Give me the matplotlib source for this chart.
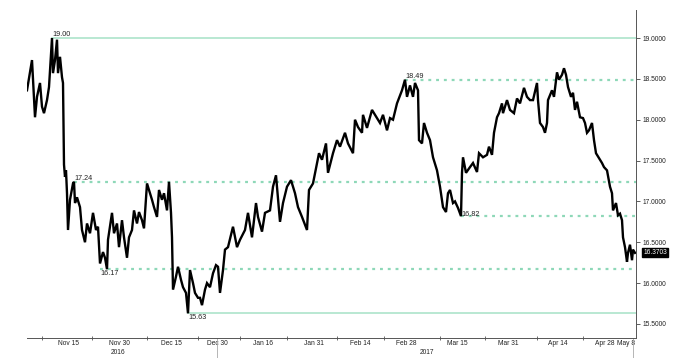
import matplotlib
matplotlib.use("Agg")
import matplotlib.pyplot as plt
import matplotlib.transforms as mtransforms

# ---- data (bar index, price) ----
bars = [0, 5, 8, 10, 13, 15, 17, 20, 22, 25, 26, 28, 30, 31, 33, 35, 36, 37, 38, 39,
        40, 41, 43, 46, 47, 48, 50, 53, 55, 58, 60, 63, 66, 69, 71, 73, 76, 78, 80, 81,
        85, 87, 90, 92, 95, 97, 100, 102, 105, 107, 110, 112, 115, 117, 120, 122, 125, 127, 130, 132,
        135, 137, 140, 142, 144, 145, 146, 149, 151, 154, 156, 159, 161, 163, 166, 168, 171, 173, 175, 178,
        180, 183, 186, 189, 191, 193, 196, 198, 201, 206, 210, 213, 218, 221, 225, 229, 231, 235, 238, 243,
        246, 249, 253, 256, 260, 264, 268, 271, 275, 280, 282, 286, 290, 292, 295, 299, 301, 306, 310, 313,
        318, 321, 326, 328, 331, 335, 336, 340, 345, 350, 353, 356, 360, 363, 366, 370, 375, 378, 380, 383,
        386, 388, 391, 392, 395, 397, 400, 403, 406, 410, 413, 416, 419, 421, 423, 426, 428, 431, 434, 435,
        436, 439, 443, 446, 450, 452, 456, 460, 462, 465, 467, 470, 472, 475, 476, 480, 483, 487, 490, 493,
        497, 500, 503, 506, 510, 511, 513, 516, 518, 520, 521, 525, 527, 530, 532, 535, 537, 539, 541, 544,
        546, 548, 550, 553, 556, 558, 560, 562, 565, 567, 569, 572, 575, 577, 580, 583, 585, 586, 589, 591,
        593, 595, 596, 598, 600, 601, 603, 605, 606, 608]
price = [18.36, 18.73, 18.03, 18.28, 18.45, 18.16, 18.08, 18.24, 18.40, 19.00, 18.57, 18.73, 18.98, 18.57, 18.77, 18.52, 18.45, 17.45, 17.30, 17.38,
         17.10, 16.65, 17.02, 17.22, 17.24, 16.98, 17.05, 16.93, 16.65, 16.50, 16.73, 16.61, 16.86, 16.65, 16.69, 16.24, 16.38, 16.31, 16.17, 16.53,
         16.86, 16.61, 16.73, 16.44, 16.77, 16.56, 16.31, 16.56, 16.65, 16.89, 16.73, 16.87, 16.77, 16.67, 17.22, 17.14, 17.02, 16.93, 16.81, 17.14,
         17.02, 17.10, 16.89, 17.24, 16.86, 16.56, 15.92, 16.08, 16.20, 16.04, 15.95, 15.88, 15.63, 16.16, 16.00, 15.88, 15.82, 15.82, 15.73, 15.92,
         16.00, 15.95, 16.12, 16.22, 16.20, 15.88, 16.16, 16.41, 16.44, 16.69, 16.44, 16.53, 16.65, 16.86, 16.56, 16.98, 16.81, 16.63, 16.86, 16.89,
         17.18, 17.32, 16.75, 16.98, 17.18, 17.26, 17.10, 16.93, 16.81, 16.65, 17.14, 17.22, 17.47, 17.59, 17.51, 17.71, 17.35, 17.59, 17.75, 17.67,
         17.84, 17.71, 17.59, 18.00, 17.91, 17.84, 18.06, 17.90, 18.12, 18.02, 17.96, 18.06, 17.87, 18.02, 18.00, 18.20, 18.36, 18.49, 18.28, 18.42,
         18.28, 18.45, 18.36, 17.75, 17.71, 17.96, 17.84, 17.75, 17.54, 17.38, 17.18, 16.93, 16.87, 17.10, 17.14, 16.98, 17.00, 16.92, 16.82, 17.35,
         17.54, 17.35, 17.42, 17.47, 17.36, 17.59, 17.54, 17.57, 17.67, 17.57, 17.84, 18.03, 18.08, 18.20, 18.08, 18.24, 18.12, 18.08, 18.26, 18.20,
         18.39, 18.28, 18.24, 18.24, 18.45, 18.24, 17.96, 17.91, 17.84, 17.96, 18.24, 18.36, 18.28, 18.58, 18.49, 18.55, 18.63, 18.55, 18.40, 18.28,
         18.33, 18.12, 18.22, 18.03, 18.02, 17.96, 17.84, 17.87, 17.96, 17.75, 17.59, 17.53, 17.47, 17.42, 17.38, 17.18, 17.10, 16.89, 16.98, 16.83,
         16.85, 16.77, 16.56, 16.44, 16.26, 16.37, 16.47, 16.28, 16.41, 16.37]
last_price = 16.3703

# levels: (value, start bar, style, label placement)
level_values = [19.00, 18.49, 17.24, 16.82, 16.17, 15.63]
level_start = [25, 378, 47, 434, 73, 161]
level_solid = [True, False, False, False, False, True]
level_label_pos = ["above", "above", "above", "center", "below", "below"]

date_ticks = [41, 92, 144, 190, 236, 287, 333, 379, 430, 481, 531, 578, 599]
date_labels = ["Nov 15", "Nov 30", "Dec 15", "Dec 30", "Jan 16", "Jan 31", "Feb 14",
               "Feb 28", "Mar 15", "Mar 31", "Apr 14", "Apr 28", "May 8"]
minor_ticks = [15, 65, 120, 171, 213, 260, 310, 357, 413, 458, 510, 556]
year_labels = [("2016", 91), ("2017", 400)]
year_sep = [190, 606]
y_ticks = [15.5, 16.0, 16.5, 17.0, 17.5, 18.0, 18.5, 19.0]

plt.rcParams['font.family'] = ['Liberation Sans', 'DejaVu Sans']

fig = plt.figure(figsize=(6.8, 3.58), dpi=100)
ax = fig.add_axes([27/680, 1-338/358, (636-27)/680, (338-10)/358])
ax.set_xlim(0, 609)
ax.set_ylim(15.328, 19.343)

ax.plot(bars, price, color='black', lw=1.7, solid_joinstyle='miter', zorder=3)

solid_c = '#a6e2c6'
dot_c = '#8ed8b8'
for v, s, solid, pos in zip(level_values, level_start, level_solid, level_label_pos):
    if solid:
        ax.plot([s, 609], [v, v], color=solid_c, lw=1.1, zorder=1)
    else:
        ax.plot([s, 609], [v, v], color=dot_c, lw=1.6, linestyle=(0, (1.3, 2.2)), zorder=1)
    if pos == "above":
        va, off = 'bottom', 0.0
    elif pos == "below":
        va, off = 'top', -0.01
    else:
        va, off = 'center', 0.02
    ax.text(s, v + off, f"{v:.2f}", fontsize=5.2, ha='left', va=va, color='#222222', zorder=4)

# last price tag
ax.text(1.012, last_price, f"{last_price:.4f}", transform=mtransforms.blended_transform_factory(ax.transAxes, ax.transData),
        fontsize=4.8, color='white', ha='left', va='center',
        bbox=dict(boxstyle='square,pad=0.15', fc='black', ec='black'), zorder=5, clip_on=False)

ax.yaxis.tick_right()
ax.set_yticks(y_ticks)
ax.set_yticklabels([f"{t:.4f}" for t in y_ticks])
ax.tick_params(axis='y', labelsize=4.8, length=3, width=0.6, color='#444444', pad=1.5, labelcolor='#222222')

ax.set_xticks(date_ticks)
ax.set_xticklabels(date_labels)
ax.set_xticks(minor_ticks, minor=True)
ax.tick_params(axis='x', which='major', length=0, labelsize=4.8, pad=1.5, labelcolor='#222222')
ax.tick_params(axis='x', which='minor', length=3, direction='inout', width=0.6, color='#555555')

for sp in ['top', 'left']:
    ax.spines[sp].set_visible(False)
ax.spines['bottom'].set_color('#555555')
ax.spines['right'].set_color('#555555')
ax.spines['bottom'].set_linewidth(0.7)
ax.spines['right'].set_linewidth(0.7)

trans = mtransforms.blended_transform_factory(ax.transData, ax.transAxes)
for name, xp in year_labels:
    ax.text(xp, -0.045, name, transform=trans, fontsize=4.8, ha='center', va='center', color='#222222')
for xs in year_sep:
    ax.plot([xs, xs], [0, -0.06], transform=trans, color='#aaaaaa', lw=0.6, clip_on=False)

fig.savefig("out.png", dpi=100)
